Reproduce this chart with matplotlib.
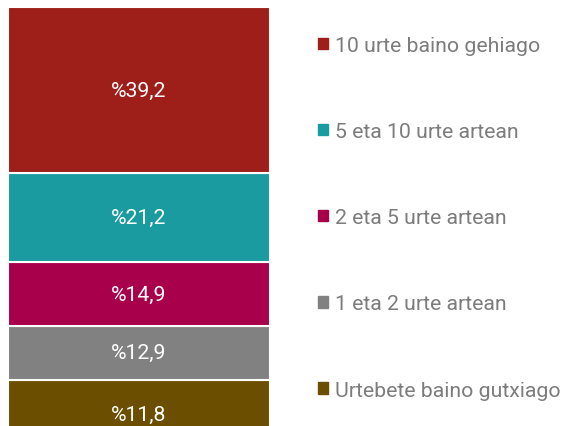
import matplotlib.pyplot as plt
import matplotlib.patches as mpatches

# Data (bottom to top)
categories = ['Urtebete baino gutxiago', '1 eta 2 urte artean', '2 eta 5 urte artean',
              '5 eta 10 urte artean', '10 urte baino gehiago']
values = [11.8, 12.9, 14.9, 21.2, 39.2]
colors = ['#6B4E00', '#818181', '#A8004B', '#1A9BA0', '#9E1F1A']

plt.rcParams['font.family'] = ['Roboto', 'DejaVu Sans']

fig = plt.figure(figsize=(5.64, 4.27), dpi=100)
ax = fig.add_axes([8 / 564, -4 / 427, 262 / 564, 423 / 427])

bottom = 0
for i, (cat, val, col) in enumerate(zip(categories, values, colors)):
    ax.bar(0, val, bottom=bottom, width=1, color=col, edgecolor='white', linewidth=1.5)
    off = -9 if i == 0 else 0
    ax.annotate('%' + f'{val:.1f}'.replace('.', ','), (0, bottom + val / 2),
                xytext=(0, off), textcoords='offset pixels',
                ha='center', va='center', color='white', fontsize=15.3)
    bottom += val

ax.set_xlim(-0.5, 0.5)
ax.set_ylim(0, 100)
ax.axis('off')

handles = [mpatches.Patch(color=c, label=l) for c, l in zip(colors, categories)][::-1]
leg = fig.legend(handles=handles, loc='upper left', bbox_to_anchor=(318 / 564, 1 - 37 / 427),
                 frameon=False, fontsize=15.3, labelspacing=3.16,
                 handlelength=0.45, handleheight=0.45, handletextpad=0.33,
                 borderaxespad=0, borderpad=0)
for t in leg.get_texts():
    t.set_color('#7c7c7c')

fig.savefig('out.png', dpi=100)
